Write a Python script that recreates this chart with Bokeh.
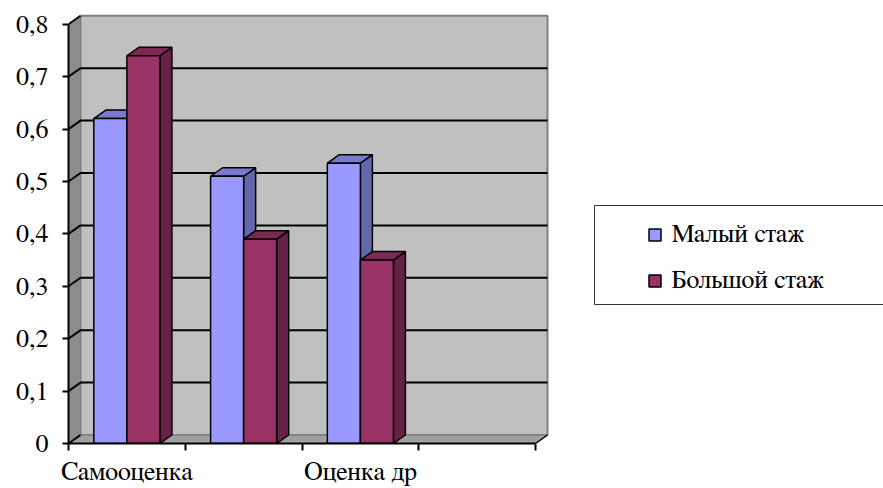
from bokeh.plotting import figure
from bokeh.models import Range1d, FixedTicker, CustomJSTickFormatter, Legend, LegendItem
from bokeh.embed import file_html
from bokeh.resources import INLINE

# ---------------- data ----------------
categories = ["Самооценка", "", "Оценка др", ""]
series_names = ["Малый стаж", "Большой стаж"]
small_exp = [0.62, 0.51, 0.535]
large_exp = [0.74, 0.39, 0.35]
y_ticks = [0, 0.1, 0.2, 0.3, 0.4, 0.5, 0.6, 0.7, 0.8]

# ---------------- layout / style ----------------
W, H = 883, 488
B_LEFT, B_BOTTOM = 68, 45
FRAME_W, FRAME_H = W - B_LEFT, H - B_BOTTOM
PX_X = 116.75          # px per category
PX_Y = 524.0           # px per 1.0 value
DX = 12 / PX_X         # 3D depth offset (data units)
DY = 8.5 / PX_Y
N = len(categories)
YMAX = y_ticks[-1]
BAR_W = 0.283
FONT = "FreeSerif"
FS = "26px"

BLUE = ("#9999FF", "#7A7ACC", "#6666AA")   # front, top, side
RED = ("#993366", "#7A2952", "#662244")

p = figure(width=W, height=H, output_backend="svg", toolbar_location=None,
           x_range=Range1d(0, FRAME_W / PX_X), y_range=Range1d(0, FRAME_H / PX_Y),
           min_border_left=B_LEFT, min_border_bottom=B_BOTTOM,
           min_border_top=0, min_border_right=0)
p.outline_line_color = None
p.xgrid.visible = False
p.ygrid.visible = False
p.background_fill_color = "white"

# walls
p.quad(left=DX, right=N + DX, bottom=DY, top=YMAX + DY,
       fill_color="#C0C0C0", line_color="#808080", line_width=2)
p.patch([0, DX, DX, 0], [0, DY, YMAX + DY, YMAX],
        fill_color="#8C8C8C", line_color="#808080", line_width=1)
p.patch([0, N, N + DX, DX], [0, 0, DY, DY],
        fill_color="#A0A0A0", line_color=None)
p.line([DX, N + DX], [DY, DY], line_color="#808080", line_width=1.5)
p.line([N, N + DX], [0, DY], line_color="black", line_width=1.5)

# gridlines on back & left walls
gx, gy = [], []
for v in y_ticks:
    if 0 < v < YMAX:
        gx.append([0, DX, N + DX])
        gy.append([v, v + DY, v + DY])
    else:
        gx.append([0, DX])
        gy.append([v, v + DY])
p.multi_line(gx, gy, line_color="black", line_width=2)

# bars
front_renderers = []
for s, (vals, cols) in enumerate([(small_exp, BLUE), (large_exp, RED)]):
    x0s = [i + 0.5 - BAR_W + s * BAR_W for i in range(len(vals))]
    x1s = [x + BAR_W for x in x0s]
    side_xs = [[x1, x1 + DX, x1 + DX, x1] for x1 in x1s]
    side_ys = [[0, DY, v + DY, v] for v in vals]
    top_xs = [[x0, x1, x1 + DX, x0 + DX] for x0, x1 in zip(x0s, x1s)]
    top_ys = [[v, v, v + DY, v + DY] for v in vals]
    p.patches(side_xs, side_ys, fill_color=cols[2], line_color="black", line_width=1.5)
    p.patches(top_xs, top_ys, fill_color=cols[1], line_color="black", line_width=1.5)
    r = p.quad(left=x0s, right=x1s, bottom=0, top=vals,
               fill_color=cols[0], line_color="black", line_width=1.5)
    front_renderers.append(r)

# axes
yax = p.yaxis[0]
yax.ticker = FixedTicker(ticks=y_ticks)
yax.bounds = (0, YMAX)
yax.formatter = CustomJSTickFormatter(
    code="return tick == 0 ? '0' : tick.toFixed(1).replace('.', ',');")
yax.major_tick_in = 0
yax.major_tick_out = 6
yax.minor_tick_line_color = None
yax.axis_line_width = 2
yax.major_tick_line_width = 2
yax.major_label_standoff = 14
yax.major_label_text_font = FONT
yax.major_label_text_font_size = FS
yax.major_label_text_color = "black"

xax = p.xaxis[0]
label_pos = [i + 0.5 for i, c in enumerate(categories) if c]
xax.ticker = FixedTicker(ticks=label_pos, minor_ticks=list(range(N + 1)))
xax.major_label_overrides = {i + 0.5: c for i, c in enumerate(categories) if c}
xax.bounds = (0, N)
xax.major_tick_line_color = None
xax.minor_tick_in = 0
xax.minor_tick_out = 7
xax.minor_tick_line_width = 2
xax.axis_line_width = 2
xax.major_label_standoff = 8
xax.major_label_text_font = FONT
xax.major_label_text_font_size = FS
xax.major_label_text_color = "black"

# legend box
def px_x(px):
    return (px - B_LEFT) / PX_X

def px_y(py):
    return (FRAME_H - py) / PX_Y

p.quad(left=px_x(594), right=px_x(900), bottom=px_y(304), top=px_y(205),
       fill_color="white", line_color="#333333", line_width=1)

legend = Legend(items=[LegendItem(label=series_names[0], renderers=[front_renderers[0]]),
                       LegendItem(label=series_names[1], renderers=[front_renderers[1]])],
                location=(578.5, 148), border_line_color=None, background_fill_alpha=0,
                padding=0, spacing=17, glyph_width=15, glyph_height=15,
                label_standoff=10, label_text_font=FONT, label_text_font_size=FS,
                label_text_color="black")
p.add_layout(legend)

open("out.html", "w").write(file_html(p, INLINE))
